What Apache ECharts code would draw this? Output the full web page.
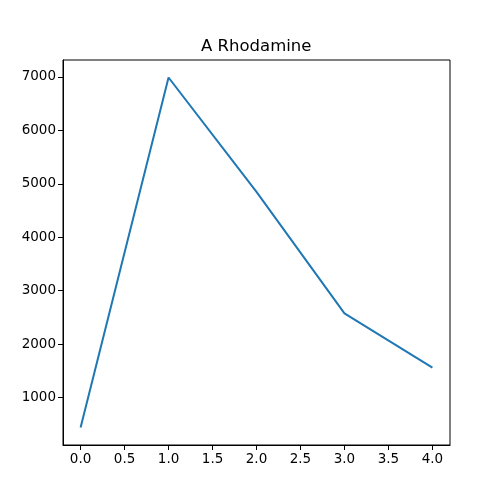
<!DOCTYPE html>
<html>
<head>
<meta charset="utf-8">
<script src="https://cdn.jsdelivr.net/npm/echarts@6/dist/echarts.min.js"></script>
<style>html,body{margin:0;padding:0;background:#fff;}#c{width:500px;height:500px;}</style>
</head>
<body>
<div id="c"></div>
<script>
var xValues = [0, 1, 2, 3, 4];
var yValues = [440, 6990, 4850, 2575, 1560];
var xTicks = [0, 0.5, 1, 1.5, 2, 2.5, 3, 3.5, 4];
var yTicks = [1000, 2000, 3000, 4000, 5000, 6000, 7000];
var titleText = 'A Rhodamine';

var font = 'DejaVu Sans';
var chart = echarts.init(document.getElementById('c'), null, {renderer: 'canvas'});
var data = xValues.map(function (x, i) { return [x, yValues[i]]; });
chart.setOption({
  animation: false,
  backgroundColor: '#fff',
  title: {
    text: titleText,
    left: 201,
    top: 38,
    padding: 0,
    textStyle: {fontFamily: font, fontSize: 16.5, fontWeight: 'normal', color: '#000'}
  },
  grid: {left: 63, right: 50, top: 60, bottom: 55, show: true, borderColor: '#000', borderWidth: 1, backgroundColor: 'transparent'},
  xAxis: {
    type: 'value', min: -0.2, max: 4.2,
    splitLine: {show: false},
    axisLine: {show: true, onZero: false, lineStyle: {color: '#000', width: 1}},
    axisTick: {show: true, length: 5, lineStyle: {color: '#000'}, customValues: xTicks},
    axisLabel: {show: true, margin: 7, color: '#000', fontFamily: font, fontSize: 13.5,
      customValues: xTicks, formatter: function (v) { return v.toFixed(1); }}
  },
  yAxis: {
    type: 'value', min: 112.5, max: 7317.5,
    splitLine: {show: false},
    axisLine: {show: true, onZero: false, lineStyle: {color: '#000', width: 1}},
    axisTick: {show: true, length: 5, lineStyle: {color: '#000'}, customValues: yTicks},
    axisLabel: {show: true, margin: 7, color: '#000', fontFamily: font, fontSize: 13.5,
      customValues: yTicks, formatter: function (v) { return String(v); }}
  },
  series: [{
    type: 'line', data: data, showSymbol: false, symbol: 'none',
    lineStyle: {color: '#1f77b4', width: 2}, itemStyle: {color: '#1f77b4'}
  }]
});
</script>
</body>
</html>
